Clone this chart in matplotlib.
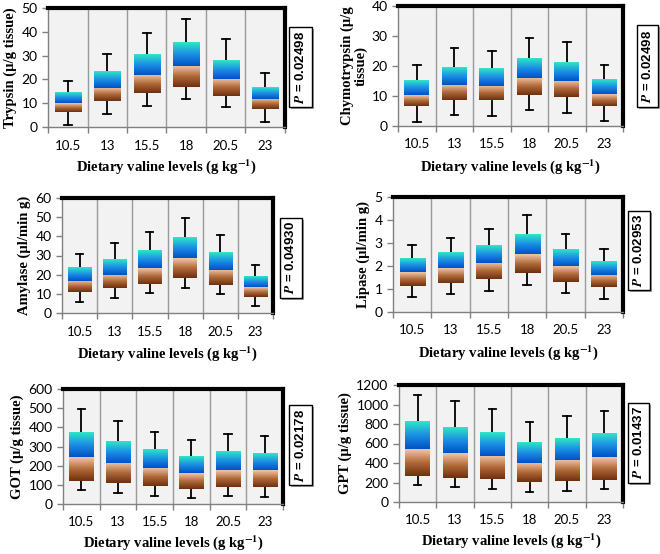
import numpy as np
import matplotlib
matplotlib.use("Agg")
import matplotlib.pyplot as plt
from matplotlib.colors import LinearSegmentedColormap
from matplotlib.patches import Rectangle

plt.rcParams['mathtext.fontset'] = 'stix'

levels = ["10.5", "13", "15.5", "18", "20.5", "23"]

# each list: whisker min, Q1, median, Q3, whisker max per level
trypsin = [[1, 6.5, 10, 14.5, 19.5], [5.5, 10.8, 16.5, 23.3, 30.5], [9, 14.2, 22, 30.5, 39.3],
           [11.8, 16.8, 25.8, 35.5, 45.5], [8.2, 13, 20.3, 28.2, 36.8], [2.3, 7.5, 11.8, 16.8, 22.5]]
chymotrypsin = [[1.5, 6.7, 10.3, 15.2, 20.2], [3.8, 8.7, 13.8, 19.7, 26], [3.4, 8.5, 13.3, 19, 25],
                [5.3, 10.2, 16, 22.5, 29.4], [4.5, 9.6, 15.1, 21.2, 28], [1.6, 6.7, 10.5, 15.4, 20.3]]
amylase = [[5.7, 10.7, 16.7, 23.5, 30.6], [8, 12.8, 20, 28, 36.5], [10.4, 15.3, 23.5, 32.8, 42.3],
           [13.3, 18.2, 28.5, 39, 49.8], [9.7, 14.6, 22.6, 31.6, 40.6], [3.6, 8.6, 13.5, 19.2, 25.3]]
lipase = [[0.65, 1.15, 1.72, 2.32, 2.9], [0.77, 1.27, 1.9, 2.57, 3.2], [0.92, 1.42, 2.13, 2.88, 3.6],
          [1.17, 1.68, 2.5, 3.35, 4.2], [0.82, 1.32, 1.98, 2.68, 3.37], [0.57, 1.07, 1.6, 2.17, 2.72]]
got = [[72, 122, 245, 372, 497], [57, 107, 215, 325, 435], [42, 93, 188, 283, 378],
       [30, 80, 160, 245, 333], [40, 90, 178, 272, 363], [38, 88, 175, 263, 353]]
gpt = [[170, 270, 540, 820, 1100], [150, 250, 505, 770, 1035], [135, 232, 470, 710, 953],
       [100, 200, 405, 615, 825], [115, 212, 433, 655, 878], [130, 228, 462, 700, 933]]

ylabels = ["Trypsin (\u00b5/g tissue)", "Chymotrypsin (\u00b5/g\ntissue)", "Amylase (\u00b5l/min g)",
           "Lipase (\u00b5l/min g)", "GOT (\u00b5/g tissue)", "GPT (\u00b5/g tissue)"]
pvalues = ["0.02498", "0.02498", "0.04930", "0.02953", "0.02178", "0.01437"]
ymax = [50, 40, 60, 5, 600, 1200]
ystep = [10, 10, 10, 1, 100, 200]
xlabel = r"Dietary valine levels (g kg$^{\mathbf{-1}}$)"

W, H = 660, 554
# panel pixel boxes: left, right, top, bottom
axes_px = [(48, 285, 8, 127), (398, 623, 6, 126), (62, 273, 198, 313),
           (393, 623, 197, 312), (63, 283, 389, 504), (399, 623, 385, 502)]
pbox_px = [(289, 312, 27, 107), (637, 658, 25, 107), (280, 302, 218, 298),
           (628, 650, 211, 290), (289, 312, 405, 485), (628, 649, 403, 483)]
xlabel_pad = [4, 5, 5, 5, 3, 3]

brown = LinearSegmentedColormap.from_list("brown", ["#6e300e", "#b06a3a", "#f0c6a6"])
blue = LinearSegmentedColormap.from_list("blue", ["#0052c6", "#1c8fe4", "#2ee6c6"])
grad = np.linspace(0, 1, 64).reshape(-1, 1)

fig = plt.figure(figsize=(W / 100, H / 100), dpi=100)
datasets = [trypsin, chymotrypsin, amylase, lipase, got, gpt]

for i, data in enumerate(datasets):
    l, r, t, b = axes_px[i]
    ax = fig.add_axes([l / W, 1 - b / H, (r - l) / W, (b - t) / H])
    ax.set_facecolor("#f2f2f2")
    n = len(levels)
    bw = 0.66
    for j, (mn, q1, med, q3, mx) in enumerate(data):
        ax.imshow(grad, cmap=brown, origin="lower", aspect="auto",
                  extent=[j - bw / 2, j + bw / 2, q1, med], zorder=3)
        ax.imshow(grad, cmap=blue, origin="lower", aspect="auto",
                  extent=[j - bw / 2, j + bw / 2, med, q3], zorder=3)
        ax.plot([j, j], [q3, mx], color="black", lw=1.3, zorder=2)
        ax.plot([j, j], [mn, q1], color="black", lw=1.3, zorder=2)
        cw = 0.1
        ax.plot([j - cw, j + cw], [mx, mx], color="black", lw=1.3, zorder=2)
        ax.plot([j - cw, j + cw], [mn, mn], color="black", lw=1.3, zorder=2)
    for k in range(1, n):
        ax.axvline(k - 0.5, color="#9a9a9a", lw=1.0, zorder=1)
    ax.set_xlim(-0.5, n - 0.5)
    ax.set_ylim(0, ymax[i])
    ax.set_xticks(np.arange(-0.5, n, 1.0))
    ax.set_xticklabels([])
    ax.set_xticks(np.arange(n), minor=True)
    ax.set_xticklabels(levels, minor=True, fontfamily="Lato", fontsize=9.5)
    ax.tick_params(axis="x", which="minor", length=0, pad=9)
    ax.tick_params(axis="x", which="major", length=4, color="#808080", width=1)
    ax.set_yticks(np.arange(0, ymax[i] + ystep[i] / 2, ystep[i]))
    ax.tick_params(axis="y", length=4, color="#808080", width=1, labelsize=10)
    for lab in ax.get_yticklabels():
        lab.set_fontfamily("Lato")
    for s in ("top", "right"):
        ax.spines[s].set_color("black")
        ax.spines[s].set_linewidth(3)
    for s in ("left", "bottom"):
        ax.spines[s].set_color("#808080")
        ax.spines[s].set_linewidth(1)
    ax.set_ylabel(ylabels[i], fontfamily="Liberation Serif", fontweight="bold",
                  fontsize=10.5, labelpad=3, linespacing=1.0)
    ax.set_xlabel(xlabel, fontfamily="Liberation Serif", fontweight="bold",
                  fontsize=10.5, labelpad=xlabel_pad[i])

    pl, pr, pt, pb = pbox_px[i]
    fig.patches.append(Rectangle(((pl + 2) / W, 1 - (pb + 2) / H), (pr - pl) / W, (pb - pt) / H,
                                 transform=fig.transFigure, facecolor="#a0a0a0",
                                 edgecolor="none", zorder=1))
    fig.patches.append(Rectangle((pl / W, 1 - pb / H), (pr - pl) / W, (pb - pt) / H,
                                 transform=fig.transFigure, facecolor="white",
                                 edgecolor="black", lw=1.0, zorder=2))
    fig.text((pl + pr) / 2 / W, 1 - (pt + pb) / 2 / H,
             r"$\mathbfit{P}$ = " + pvalues[i], rotation=90, ha="center", va="center",
             fontfamily="Liberation Sans", fontweight="bold", fontsize=9.5, zorder=3)

fig.savefig("out.png", dpi=100)
